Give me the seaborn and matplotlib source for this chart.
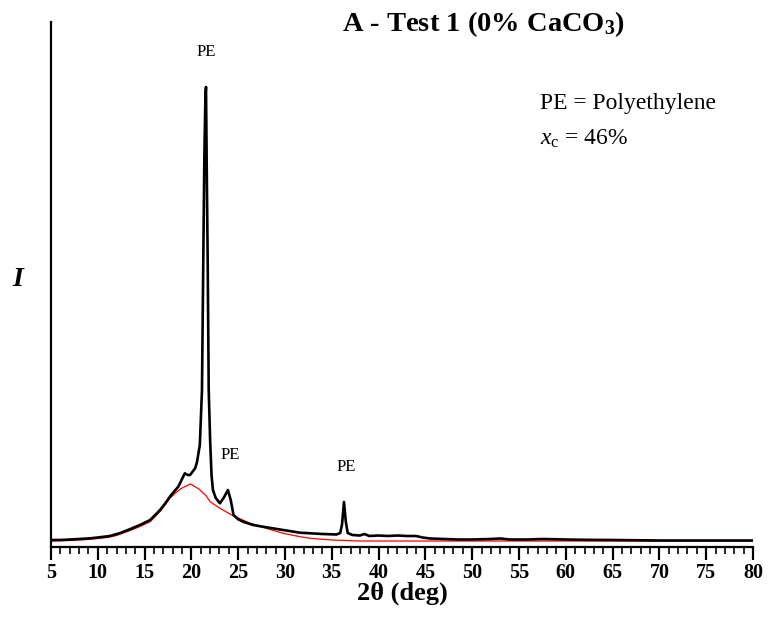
import matplotlib
matplotlib.use("Agg")
import matplotlib.pyplot as plt
import seaborn as sns
import pandas as pd
from matplotlib.ticker import MultipleLocator

# ---- data (2theta in deg, intensity in arbitrary units) ----
obs_2theta = [5.0, 6.0, 7.0, 8.0, 9.2, 10.0, 11.3, 12.4, 13.4, 14.5, 15.6, 16.65, 17.2,
              17.7, 18.2, 18.6, 19.0, 19.3, 19.6, 19.85, 20.1, 20.4, 20.6, 20.9, 21.13,
              21.27, 21.38, 21.5, 21.56, 21.63, 21.74, 21.85, 22.0, 22.15, 22.3, 22.6,
              23.05, 23.5, 23.9, 24.2, 24.5, 25.0, 25.6, 26.6, 28.0, 29.8, 31.6, 32.7,
              34.0, 35.5, 35.9, 36.1, 36.3, 36.5, 36.7, 37.2, 38.0, 38.5, 39.0, 40.0,
              41.0, 42.0, 43.0, 44.0, 44.7, 45.5, 47.0, 48.5, 50.0, 52.0, 53.0, 54.0,
              56.0, 57.5, 60.0, 62.0, 65.0, 70.0, 75.0, 80.0]
obs_intensity = [7.0, 7.0, 7.5, 8.0, 8.7, 9.5, 11.0, 14.0, 17.7, 22.0, 27.0, 37.0, 43.5,
                 50.3, 56.0, 60.3, 68.0, 73.7, 72.0, 72.0, 75.0, 78.7, 85.0, 102.0, 157.0,
                 287.0, 387.0, 452.0, 460.0, 387.0, 287.0, 157.0, 107.0, 72.0, 57.0, 49.0,
                 43.7, 50.0, 57.0, 47.0, 32.0, 27.7, 25.0, 22.0, 19.7, 17.0, 14.3, 13.7,
                 13.0, 12.5, 14.0, 23.0, 45.0, 25.0, 14.0, 12.0, 11.5, 13.0, 11.0, 11.5,
                 11.0, 11.5, 11.0, 11.0, 9.5, 8.5, 8.0, 7.5, 7.5, 8.0, 8.5, 7.5,
                 7.5, 8.0, 7.5, 7.2, 7.0, 6.5, 6.5, 6.5]

amorph_2theta = [5.0, 7.0, 9.2, 11.0, 12.0, 13.4, 14.5, 15.6, 16.7, 17.7, 18.3, 18.9,
                 19.9, 20.8, 21.6, 22.0, 23.05, 24.5, 26.3, 28.0, 29.8, 31.6, 32.7,
                 35.0, 38.0, 45.0, 60.0, 80.0]
amorph_intensity = [6.0, 6.5, 7.7, 9.5, 11.5, 16.3, 20.5, 25.3, 36.0, 48.7, 54.0, 58.5,
                    63.0, 58.0, 51.0, 45.3, 38.7, 31.0, 23.7, 18.7, 13.7, 10.3, 8.7,
                    7.0, 6.0, 6.0, 6.0, 6.0]

pe_labels = ["PE", "PE", "PE"]
pe_label_2theta = [21.6, 24.1, 36.5]
pe_label_intensity = [495, 92, 80]

title_text = r"A - Test 1 (0% CaCO$_\mathbf{3}$)"
legend_lines = ["PE = Polyethylene", r"$x_\mathrm{c}$ = 46%"]
xticks = list(range(5, 81, 5))

# ---- style ----
sns.set_theme(style="white")
plt.rcParams["font.family"] = ["Liberation Serif", "DejaVu Serif"]
plt.rcParams["mathtext.fontset"] = "custom"
plt.rcParams["mathtext.rm"] = "Liberation Serif"
plt.rcParams["mathtext.it"] = "Liberation Serif:italic"
plt.rcParams["mathtext.bf"] = "Liberation Serif:bold"

df_obs = pd.DataFrame({"two_theta": obs_2theta, "I": obs_intensity})
df_am = pd.DataFrame({"two_theta": amorph_2theta, "I": amorph_intensity})

fig = plt.figure(figsize=(7.71, 6.21), dpi=100)
ax = fig.add_axes([51 / 771, 1 - 547 / 621, (753 - 51) / 771, (547 - 22) / 621])

sns.lineplot(data=df_am, x="two_theta", y="I", ax=ax, color="#ff0000",
             linewidth=0.9, estimator=None, sort=False)
sns.lineplot(data=df_obs, x="two_theta", y="I", ax=ax, color="black",
             linewidth=1.9, estimator=None, sort=False)

ax.set_xlim(5, 80)
ax.set_ylim(0, 525)
ax.set_xticks(xticks)
ax.xaxis.set_minor_locator(MultipleLocator(1))
ax.set_yticks([])
ax.tick_params(axis="x", which="major", direction="out", length=9, width=1.6,
               color="black", labelsize=14.5, pad=2.5, bottom=True)
ax.tick_params(axis="x", which="minor", direction="out", length=5, width=1.2,
               color="black", bottom=True)
for lab in ax.get_xticklabels():
    lab.set_fontweight("bold")
    lab.set_color("black")

for side in ["top", "right"]:
    ax.spines[side].set_visible(False)
for side in ["left", "bottom"]:
    ax.spines[side].set_color("black")
    ax.spines[side].set_linewidth(1.6)

ax.set_xlabel(r"2θ (deg)", fontsize=19, fontweight="bold", color="black", labelpad=-1)
ax.set_ylabel("")
fig.text(18 / 771, 1 - 279 / 621, "I", fontsize=20, fontweight="bold", style="italic",
         ha="center", va="center", color="black")

for t, xv, yv in zip(pe_labels, pe_label_2theta, pe_label_intensity):
    ax.text(xv, yv, t, fontsize=12, ha="center", va="center", color="black")

fig.text(483 / 771, 1 - 24 / 621, title_text, fontsize=20.5, fontweight="bold",
         ha="center", va="center", color="black")
fig.text(540 / 771, 1 - 104 / 621, legend_lines[0], fontsize=17, ha="left",
         va="center", color="black")
fig.text(540 / 771, 1 - 139 / 621, legend_lines[1], fontsize=17, ha="left",
         va="center", color="black")

fig.savefig("out.png", dpi=100)
